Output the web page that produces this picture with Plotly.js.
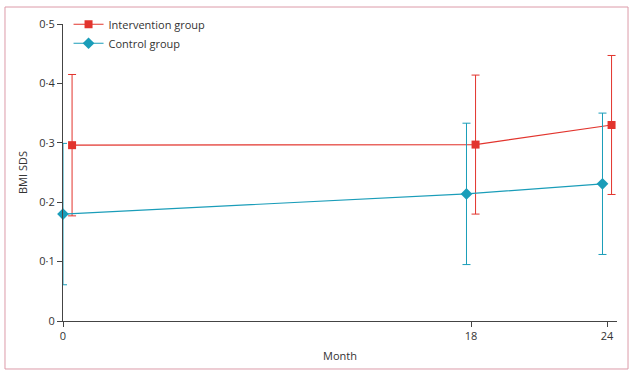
<!DOCTYPE html>
<html>
<head>
<meta charset="utf-8">
<script src="https://cdn.plot.ly/plotly-3.0.1.min.js"></script>
<style>
html,body{margin:0;padding:0;background:#fff;}
#chart{width:640px;height:377px;}
</style>
</head>
<body>
<div id="chart"></div>
<script>
// Data
const interventionMonths = [0.4, 18.2, 24.2];
const interventionMean = [0.296, 0.297, 0.330];
const interventionErr = [0.119, 0.117, 0.117];

const controlMonths = [0, 17.8, 23.8];
const controlMean = [0.180, 0.214, 0.231];
const controlErr = [0.119, 0.119, 0.119];

const xTickVals = [0, 18, 24];
const xTickText = ['0', '18', '24'];
const yTickVals = [0, 0.1, 0.2, 0.3, 0.4, 0.5];
const yTickText = ['0', '0·1', '0·2', '0·3', '0·4', '0·5'];

const red = '#e2342d';
const cyan = '#1a9db9';

const traces = [
  {
    name: 'Intervention group',
    x: interventionMonths, y: interventionMean,
    type: 'scatter', mode: 'lines+markers',
    line: {color: red, width: 1.2},
    marker: {symbol: 'square', size: 8, color: red},
    error_y: {type: 'data', array: interventionErr, visible: true, color: red, thickness: 1, width: 4},
    cliponaxis: false
  },
  {
    name: 'Control group',
    x: controlMonths, y: controlMean,
    type: 'scatter', mode: 'lines+markers',
    line: {color: cyan, width: 1.2},
    marker: {symbol: 'diamond', size: 9, color: cyan},
    error_y: {type: 'data', array: controlErr, visible: true, color: cyan, thickness: 1, width: 4},
    cliponaxis: false
  }
];

const layout = {
  width: 640, height: 377,
  margin: {l: 63, r: 23, t: 24, b: 56, autoexpand: false},
  paper_bgcolor: '#fff', plot_bgcolor: '#fff',
  font: {family: 'Open Sans, sans-serif', size: 11, color: '#333'},
  showlegend: true,
  legend: {x: 0.01, y: 1.048, xanchor: 'left', yanchor: 'top', bgcolor: 'rgba(0,0,0,0)',
           font: {size: 11, color: '#333'}, tracegroupgap: 0, itemwidth: 30},
  xaxis: {
    range: [0, 24.44], tickvals: xTickVals, ticktext: xTickText,
    showgrid: false, zeroline: false, showline: true, linecolor: '#444', linewidth: 1,
    ticks: 'outside', ticklen: 5, tickcolor: '#444',
    title: {text: 'Month', font: {size: 11, color: '#333'}, standoff: 10}
  },
  yaxis: {
    range: [0, 0.5], tickvals: yTickVals, ticktext: yTickText,
    showgrid: false, zeroline: false, showline: true, linecolor: '#444', linewidth: 1,
    ticks: 'outside', ticklen: 5, tickcolor: '#444',
    title: {text: 'BMI SDS', font: {size: 11, color: '#333'}, standoff: 9}
  },
  shapes: [{
    type: 'rect', xref: 'paper', yref: 'paper',
    x0: -0.1047, x1: 1.0199, y0: -0.1616, y1: 1.0572,
    line: {color: '#dc9aa8', width: 1}, layer: 'below'
  }]
};

Plotly.newPlot('chart', traces, layout, {displayModeBar: false, staticPlot: true});
</script>
</body>
</html>
